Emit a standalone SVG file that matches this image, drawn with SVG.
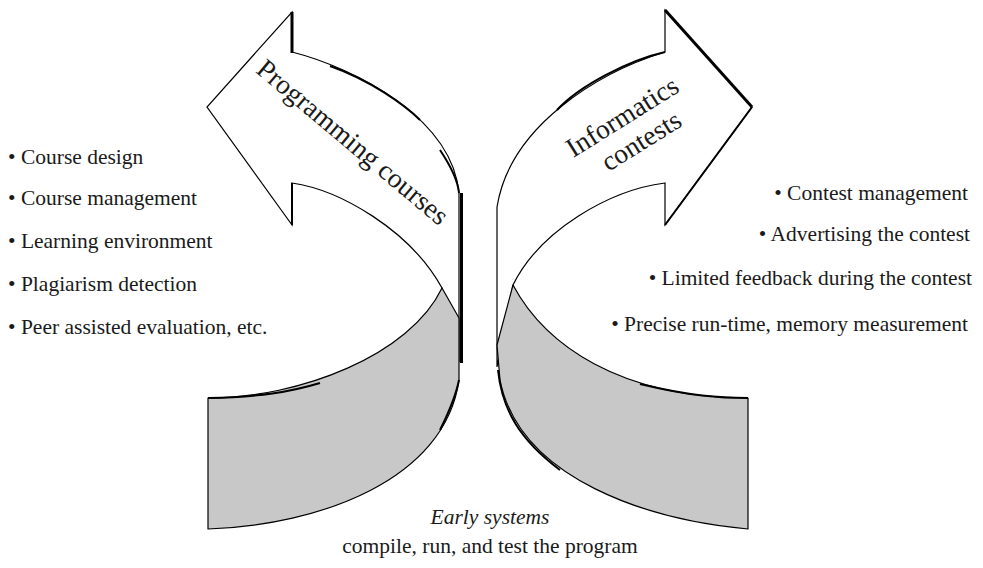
<svg xmlns="http://www.w3.org/2000/svg" width="983" height="568" viewBox="0 0 983 568">
<style>
.arrow{fill:#fff;stroke:#000;stroke-width:1.2;stroke-linejoin:miter}
.band{fill:#c8c8c8;stroke:#000;stroke-width:1.2;stroke-linejoin:round}
.thick{fill:none;stroke:#000;stroke-width:3;stroke-linecap:butt}
.mid{fill:none;stroke:#000;stroke-width:2}
.t{font-family:"Liberation Serif","Times New Roman",serif;font-size:21.5px;fill:#1a1a1a}
.lbl{font-family:"Liberation Serif","Times New Roman",serif;font-size:27.5px;fill:#1a1a1a}
</style>
<rect width="983" height="568" fill="#fff"/>

<g id="programming-courses">
  <path class="arrow" d="M292,225 L207,107 L292,12 L292,52 C355,68 452,118 459,193 L459,362 L442,288 C410,230 340,190 292,183 Z"/>
  <path class="thick" d="M292,12 L292,53"/>
  <path class="mid" d="M292,183 L292,225"/>
  <path class="mid" d="M330,66 C370,80 405,105 420,120"/>
  <path class="mid" d="M440,150 C452,168 458,182 459,193"/>
  <path class="thick" d="M461.5,193 L461.5,363"/>
  <path class="band" d="M208,398 L208,529 C320,525 445,480 459,380 L459,318 L442,288 C410,355 300,398 208,398 Z"/>
  <path class="mid" d="M208,398 C260,397 290,392 320,383"/>
  <path class="mid" d="M440,430 C450,410 456,395 459,380"/>
  <text class="lbl" transform="translate(347,149) rotate(40)" text-anchor="middle">Programming courses</text>
</g>

<g id="informatics-contests">
  <path class="arrow" d="M665,225 L752,107 L665,10 L665,52 C600,72 510,125 497,207 L497,367 L513,285 C540,230 610,190 665,183 Z"/>
  <path class="thick" d="M665,10 L752,107"/>
  <path class="mid" d="M752,107 L665,225"/>
  <path class="mid" d="M665,52 C630,60 580,85 557,110"/>
  <path class="band" d="M513,285 C545,345 620,398 748,398 L748,529 C650,520 520,480 500,380 L497,345 Z"/>
  <path class="mid" d="M640,384 C690,396 720,398 748,398"/>
  <path class="mid" d="M498,370 C502,410 520,440 560,470"/>
  <text class="lbl" transform="translate(627,124.5) rotate(-32)" text-anchor="middle">Informatics</text>
  <text class="lbl" transform="translate(646,148.5) rotate(-32)" text-anchor="middle">contests</text>
</g>

<g id="course-list">
  <text class="t" x="8" y="164">• Course design</text>
  <text class="t" x="8" y="205">• Course management</text>
  <text class="t" x="8" y="248">• Learning environment</text>
  <text class="t" x="8" y="291">• Plagiarism detection</text>
  <text class="t" x="8" y="334">• Peer assisted evaluation, etc.</text>
</g>

<g id="contest-list">
  <text class="t" x="968" y="200" text-anchor="end">• Contest management</text>
  <text class="t" x="970" y="241" text-anchor="end">• Advertising the contest</text>
  <text class="t" x="972" y="285" text-anchor="end">• Limited feedback during the contest</text>
  <text class="t" x="968" y="331" text-anchor="end">• Precise run-time, memory measurement</text>
</g>

<g id="early-systems">
  <text class="t" x="490" y="524" text-anchor="middle" font-style="italic">Early systems</text>
  <text class="t" x="490" y="553" text-anchor="middle">compile, run, and test the program</text>
</g>

<g id="connectors"></g>
</svg>
